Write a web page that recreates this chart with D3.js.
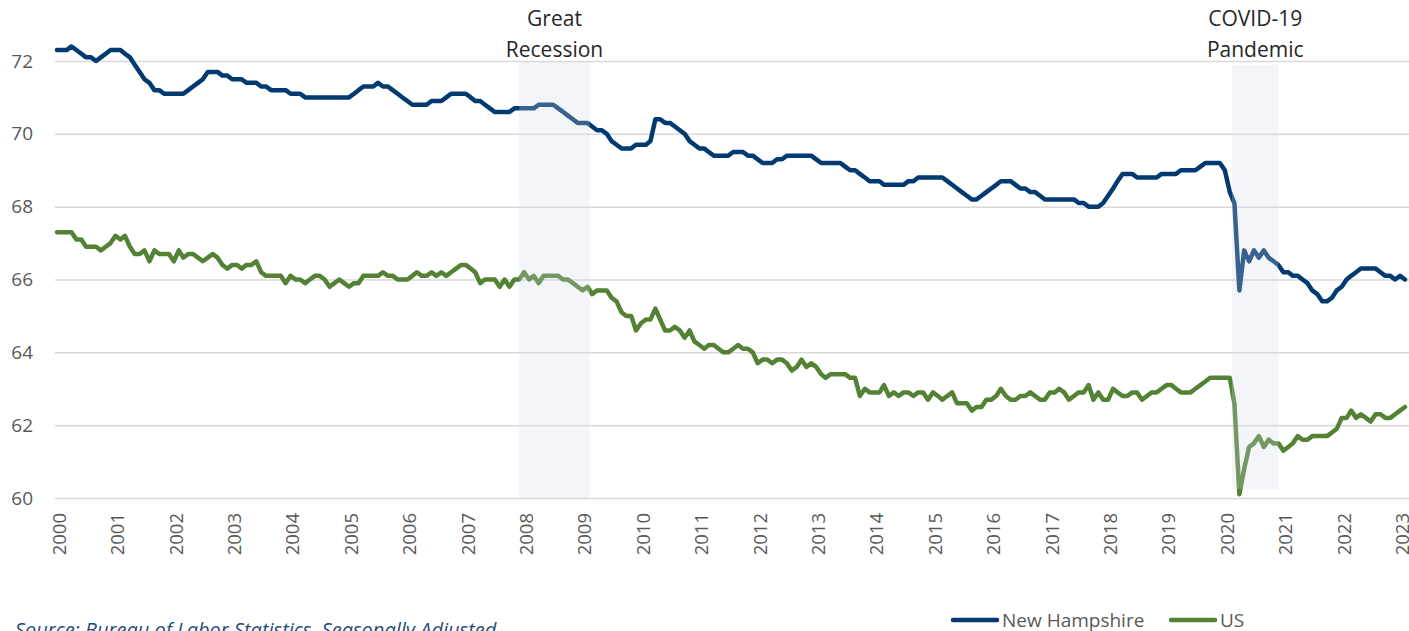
<!DOCTYPE html>
<html>
<head>
<meta charset="utf-8">
<script src="https://cdn.jsdelivr.net/npm/d3@7"></script>
<style>
  body { margin: 0; background: #fff; }
  svg { display: block; font-family: "Open Sans", sans-serif; }
</style>
</head>
<body>
<svg id="chart" width="1409" height="631"></svg>
<script>
// labor force participation rate, monthly, Jan 2000 - Feb 2023
const firstMonth = new Date(2000, 0, 1);

const nhRate = [
  72.3, 72.3, 72.3, 72.4, 72.3, 72.2, 72.1, 72.1, 72.0, 72.1, 72.2, 72.3, // 2000
  72.3, 72.3, 72.2, 72.1, 71.9, 71.7, 71.5, 71.4, 71.2, 71.2, 71.1, 71.1, // 2001
  71.1, 71.1, 71.1, 71.2, 71.3, 71.4, 71.5, 71.7, 71.7, 71.7, 71.6, 71.6, // 2002
  71.5, 71.5, 71.5, 71.4, 71.4, 71.4, 71.3, 71.3, 71.2, 71.2, 71.2, 71.2, // 2003
  71.1, 71.1, 71.1, 71.0, 71.0, 71.0, 71.0, 71.0, 71.0, 71.0, 71.0, 71.0, // 2004
  71.0, 71.1, 71.2, 71.3, 71.3, 71.3, 71.4, 71.3, 71.3, 71.2, 71.1, 71.0, // 2005
  70.9, 70.8, 70.8, 70.8, 70.8, 70.9, 70.9, 70.9, 71.0, 71.1, 71.1, 71.1, // 2006
  71.1, 71.0, 70.9, 70.9, 70.8, 70.7, 70.6, 70.6, 70.6, 70.6, 70.7, 70.7, // 2007
  70.7, 70.7, 70.7, 70.8, 70.8, 70.8, 70.8, 70.7, 70.6, 70.5, 70.4, 70.3, // 2008
  70.3, 70.3, 70.2, 70.1, 70.1, 70.0, 69.8, 69.7, 69.6, 69.6, 69.6, 69.7, // 2009
  69.7, 69.7, 69.8, 70.4, 70.4, 70.3, 70.3, 70.2, 70.1, 70.0, 69.8, 69.7, // 2010
  69.6, 69.6, 69.5, 69.4, 69.4, 69.4, 69.4, 69.5, 69.5, 69.5, 69.4, 69.4, // 2011
  69.3, 69.2, 69.2, 69.2, 69.3, 69.3, 69.4, 69.4, 69.4, 69.4, 69.4, 69.4, // 2012
  69.3, 69.2, 69.2, 69.2, 69.2, 69.2, 69.1, 69.0, 69.0, 68.9, 68.8, 68.7, // 2013
  68.7, 68.7, 68.6, 68.6, 68.6, 68.6, 68.6, 68.7, 68.7, 68.8, 68.8, 68.8, // 2014
  68.8, 68.8, 68.8, 68.7, 68.6, 68.5, 68.4, 68.3, 68.2, 68.2, 68.3, 68.4, // 2015
  68.5, 68.6, 68.7, 68.7, 68.7, 68.6, 68.5, 68.5, 68.4, 68.4, 68.3, 68.2, // 2016
  68.2, 68.2, 68.2, 68.2, 68.2, 68.2, 68.1, 68.1, 68.0, 68.0, 68.0, 68.1, // 2017
  68.3, 68.5, 68.7, 68.9, 68.9, 68.9, 68.8, 68.8, 68.8, 68.8, 68.8, 68.9, // 2018
  68.9, 68.9, 68.9, 69.0, 69.0, 69.0, 69.0, 69.1, 69.2, 69.2, 69.2, 69.2, // 2019
  69.0, 68.4, 68.1, 65.7, 66.8, 66.5, 66.8, 66.6, 66.8, 66.6, 66.5, 66.4, // 2020
  66.2, 66.2, 66.1, 66.1, 66.0, 65.9, 65.7, 65.6, 65.4, 65.4, 65.5, 65.7, // 2021
  65.8, 66.0, 66.1, 66.2, 66.3, 66.3, 66.3, 66.3, 66.2, 66.1, 66.1, 66.0, // 2022
  66.1, 66.0 // 2023
];

const usRate = [
  67.3, 67.3, 67.3, 67.3, 67.1, 67.1, 66.9, 66.9, 66.9, 66.8, 66.9, 67.0, // 2000
  67.2, 67.1, 67.2, 66.9, 66.7, 66.7, 66.8, 66.5, 66.8, 66.7, 66.7, 66.7, // 2001
  66.5, 66.8, 66.6, 66.7, 66.7, 66.6, 66.5, 66.6, 66.7, 66.6, 66.4, 66.3, // 2002
  66.4, 66.4, 66.3, 66.4, 66.4, 66.5, 66.2, 66.1, 66.1, 66.1, 66.1, 65.9, // 2003
  66.1, 66.0, 66.0, 65.9, 66.0, 66.1, 66.1, 66.0, 65.8, 65.9, 66.0, 65.9, // 2004
  65.8, 65.9, 65.9, 66.1, 66.1, 66.1, 66.1, 66.2, 66.1, 66.1, 66.0, 66.0, // 2005
  66.0, 66.1, 66.2, 66.1, 66.1, 66.2, 66.1, 66.2, 66.1, 66.2, 66.3, 66.4, // 2006
  66.4, 66.3, 66.2, 65.9, 66.0, 66.0, 66.0, 65.8, 66.0, 65.8, 66.0, 66.0, // 2007
  66.2, 66.0, 66.1, 65.9, 66.1, 66.1, 66.1, 66.1, 66.0, 66.0, 65.9, 65.8, // 2008
  65.7, 65.8, 65.6, 65.7, 65.7, 65.7, 65.5, 65.4, 65.1, 65.0, 65.0, 64.6, // 2009
  64.8, 64.9, 64.9, 65.2, 64.9, 64.6, 64.6, 64.7, 64.6, 64.4, 64.6, 64.3, // 2010
  64.2, 64.1, 64.2, 64.2, 64.1, 64.0, 64.0, 64.1, 64.2, 64.1, 64.1, 64.0, // 2011
  63.7, 63.8, 63.8, 63.7, 63.8, 63.8, 63.7, 63.5, 63.6, 63.8, 63.6, 63.7, // 2012
  63.6, 63.4, 63.3, 63.4, 63.4, 63.4, 63.4, 63.3, 63.3, 62.8, 63.0, 62.9, // 2013
  62.9, 62.9, 63.1, 62.8, 62.9, 62.8, 62.9, 62.9, 62.8, 62.9, 62.9, 62.7, // 2014
  62.9, 62.8, 62.7, 62.8, 62.9, 62.6, 62.6, 62.6, 62.4, 62.5, 62.5, 62.7, // 2015
  62.7, 62.8, 63.0, 62.8, 62.7, 62.7, 62.8, 62.8, 62.9, 62.8, 62.7, 62.7, // 2016
  62.9, 62.9, 63.0, 62.9, 62.7, 62.8, 62.9, 62.9, 63.1, 62.7, 62.9, 62.7, // 2017
  62.7, 63.0, 62.9, 62.8, 62.8, 62.9, 62.9, 62.7, 62.8, 62.9, 62.9, 63.0, // 2018
  63.1, 63.1, 63.0, 62.9, 62.9, 62.9, 63.0, 63.1, 63.2, 63.3, 63.3, 63.3, // 2019
  63.3, 63.3, 62.6, 60.1, 60.8, 61.4, 61.5, 61.7, 61.4, 61.6, 61.5, 61.5, // 2020
  61.3, 61.4, 61.5, 61.7, 61.6, 61.6, 61.7, 61.7, 61.7, 61.7, 61.8, 61.9, // 2021
  62.2, 62.2, 62.4, 62.2, 62.3, 62.2, 62.1, 62.3, 62.3, 62.2, 62.2, 62.3, // 2022
  62.4, 62.5 // 2023
];

const yTicks = [60, 62, 64, 66, 68, 70, 72];
const yearLabels = d3.range(2000, 2024);

const periods = [
  { lines: ['Great', 'Recession'], start: new Date(2007, 11, 1), end: new Date(2009, 1, 15), low: 60, high: 72 },
  { lines: ['COVID-19', 'Pandemic'], start: new Date(2020, 1, 15), end: new Date(2020, 11, 1), low: 60.25, high: 71.9 },
];

const series = [
  { name: 'New Hampshire', values: nhRate, color: '#003a70' },
  { name: 'US', values: usRate, color: '#548235' },
];

const svg = d3.select('#chart');

const monthDate = (i) => d3.timeMonth.offset(firstMonth, i);

const x = d3.scaleTime()
  .domain([firstMonth, monthDate(nhRate.length - 1)])
  .range([57, 1405]);

const y = d3.scaleLinear()
  .domain([60, 72])
  .range([498, 61]);

// gridlines + y labels
svg.append('g')
  .attr('transform', 'translate(55,0)')
  .call(d3.axisLeft(y).tickValues(yTicks).tickSize(-1360).tickPadding(22))
  .call((g) => {
    g.select('.domain').remove();
    g.selectAll('.tick line').attr('stroke', '#d9d9d9').attr('stroke-width', 1.5);
    g.selectAll('.tick text')
      .attr('fill', '#595959')
      .style('font-size', '19px')
      .style('font-family', '"Open Sans", sans-serif');
  });

// year labels, rotated
svg.append('g')
  .attr('transform', 'translate(0,498)')
  .call(d3.axisBottom(x)
    .tickValues(yearLabels.map((yr) => new Date(yr, 0, 1)))
    .tickFormat(d3.timeFormat('%Y'))
    .tickSize(0))
  .call((g) => {
    g.select('.domain').remove();
    g.selectAll('.tick text')
      .attr('transform', 'rotate(-90)')
      .attr('text-anchor', 'end')
      .attr('x', -15)
      .attr('y', 0)
      .attr('dy', '0.45em')
      .attr('fill', '#595959')
      .style('font-size', '18.5px')
      .style('font-family', '"Open Sans", sans-serif');
  });

const line = d3.line()
  .x((d, i) => x(monthDate(i)))
  .y((d) => y(d));

svg.append('g')
  .selectAll('path')
  .data(series)
  .join('path')
  .attr('d', (d) => line(d.values))
  .attr('fill', 'none')
  .attr('stroke', (d) => d.color)
  .attr('stroke-width', 4.5)
  .attr('stroke-linejoin', 'round')
  .attr('stroke-linecap', 'round');

// shaded periods sit on top of the lines
svg.append('g')
  .selectAll('rect')
  .data(periods)
  .join('rect')
  .attr('x', (d) => x(d.start))
  .attr('width', (d) => x(d.end) - x(d.start))
  .attr('y', (d) => y(d.high))
  .attr('height', (d) => y(d.low) - y(d.high))
  .attr('fill', '#d3dae5')
  .attr('opacity', 0.26);

svg.append('g')
  .selectAll('text')
  .data(periods)
  .join('text')
  .attr('text-anchor', 'middle')
  .attr('fill', '#262626')
  .style('font-size', '21px')
  .selectAll('tspan')
  .data((d) => d.lines.map((t, i) => ({ t, i, cx: (x(d.start) + x(d.end)) / 2 })))
  .join('tspan')
  .attr('x', (d) => d.cx)
  .attr('y', (d) => 26 + d.i * 30.5)
  .text((d) => d.t);

// legend
const legend = svg.append('g')
  .selectAll('g')
  .data(series)
  .join('g')
  .attr('transform', (d, i) => `translate(${[951, 1169][i]},620)`);

legend.append('line')
  .attr('x1', 2)
  .attr('x2', 46)
  .attr('stroke', (d) => d.color)
  .attr('stroke-width', 4.5)
  .attr('stroke-linecap', 'round');

legend.append('text')
  .attr('x', 51)
  .attr('dy', '0.35em')
  .attr('fill', '#595959')
  .style('font-size', '19px')
  .text((d) => d.name);

svg.append('text')
  .attr('x', 15)
  .attr('y', 637)
  .attr('fill', '#1f4e79')
  .style('font-size', '20px')
  .style('font-style', 'italic')
  .text('Source: Bureau of Labor Statistics, Seasonally Adjusted');
</script>
</body>
</html>
